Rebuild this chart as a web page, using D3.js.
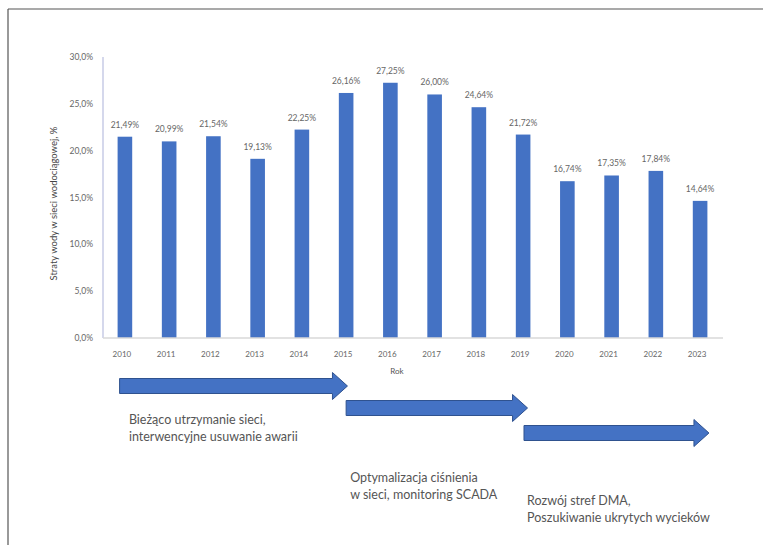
<!DOCTYPE html>
<html>
<head>
<meta charset="utf-8">
<script src="https://cdn.jsdelivr.net/npm/d3@7"></script>
<style>
  body { margin: 0; background: #fff; }
  svg { display: block; font-family: Lato, "Open Sans", sans-serif; }
</style>
</head>
<body>
<div class="chart"></div>
<script>
// dane z wykresu: straty wody w sieci wodociągowej
const years = ["2010", "2011", "2012", "2013", "2014", "2015", "2016",
               "2017", "2018", "2019", "2020", "2021", "2022", "2023"];
const losses = [21.49, 20.99, 21.54, 19.13, 22.25, 26.16, 27.25,
                26.00, 24.64, 21.72, 16.74, 17.35, 17.84, 14.64];
const yTicks = [0, 5, 10, 15, 20, 25, 30];

// etapy (strzałki pod osią)
const phaseFrom = [2009.88, 2015.0, 2019.02];
const phaseTo = [2015.03, 2019.1, 2023.2];
const phaseText = [
    ["Bieżąco utrzymanie sieci,", "interwencyjne usuwanie awarii"],
    ["Optymalizacja ciśnienia", "w sieci, monitoring SCADA"],
    ["Rozwój stref DMA,", "Poszukiwanie ukrytych wycieków"]
];

const width = 763;
const height = 545;
const margin = { top: 57, left: 103, right: 41, bottom: 207 };

const pl = d3.formatLocale({ decimal: ",", thousands: " ", grouping: [3], currency: ["", " zł"] });
const tickFmt = v => pl.format(".1f")(v) + "%";
const valFmt = v => pl.format(".2f")(v) + "%";

const svg = d3.select("div.chart")
    .append("svg")
    .attr("width", width)
    .attr("height", height);

// ramka (widoczna tylko góra i lewa strona)
svg.append("line").attr("x1", 8).attr("y1", 9).attr("x2", width).attr("y2", 9)
    .attr("stroke", "#555").attr("stroke-width", 1.2);
svg.append("line").attr("x1", 8).attr("y1", 9).attr("x2", 8).attr("y2", height)
    .attr("stroke", "#555").attr("stroke-width", 1.2);

const x = d3.scaleBand()
    .domain(years)
    .range([margin.left, width - margin.right])
    .paddingInner(0.67)
    .paddingOuter(0.33);

const y = d3.scaleLinear()
    .domain([0, 30])
    .range([height - margin.bottom, margin.top]);

const yBase = y(0);

// oś Y
svg.append("line")
    .attr("x1", margin.left).attr("x2", margin.left)
    .attr("y1", y(30)).attr("y2", yBase)
    .attr("stroke", "#d5d8ec").attr("stroke-width", 2);

svg.append("g")
    .selectAll("text")
    .data(yTicks)
    .enter()
    .append("text")
    .attr("x", margin.left - 10)
    .attr("y", d => y(d) + 3)
    .attr("text-anchor", "end")
    .attr("font-size", 8.5)
    .attr("fill", "#666")
    .text(tickFmt);

svg.append("text")
    .attr("transform", `translate(57,${(y(30) + yBase) / 2 + 6}) rotate(-90)`)
    .attr("text-anchor", "middle")
    .attr("font-size", 9.5)
    .attr("fill", "#444")
    .text("Straty wody w sieci wodociągowej, %");

// słupki
svg.append("g")
    .selectAll("rect")
    .data(years)
    .enter()
    .append("rect")
    .attr("x", d => x(d))
    .attr("width", x.bandwidth())
    .attr("y", (d, i) => y(losses[i]))
    .attr("height", (d, i) => yBase - y(losses[i]))
    .attr("fill", "#4472c4");

svg.append("g")
    .selectAll("text")
    .data(years)
    .enter()
    .append("text")
    .attr("x", d => x(d) + x.bandwidth() / 2)
    .attr("y", (d, i) => y(losses[i]) - 9)
    .attr("text-anchor", "middle")
    .attr("font-size", 8.5)
    .attr("fill", "#666")
    .text((d, i) => valFmt(losses[i]));

// oś X
svg.append("line")
    .attr("x1", margin.left).attr("x2", width - margin.right + 1)
    .attr("y1", yBase).attr("y2", yBase)
    .attr("stroke", "#d9d9d9").attr("stroke-width", 1.5);

svg.append("g")
    .selectAll("text")
    .data(years)
    .enter()
    .append("text")
    .attr("x", d => x(d) + x.bandwidth() / 2 - 3)
    .attr("y", yBase + 19)
    .attr("text-anchor", "middle")
    .attr("font-size", 8)
    .attr("fill", "#666")
    .text(d => d);

svg.append("text")
    .attr("x", 397)
    .attr("y", yBase + 36)
    .attr("text-anchor", "middle")
    .attr("font-size", 8)
    .attr("fill", "#555")
    .text("Rok");

// strzałki etapów
const xYear = d3.scaleLinear()
    .domain([2010, 2023])
    .range([x("2010") + x.bandwidth() / 2, x("2023") + x.bandwidth() / 2]);

const arrowY = [386, 408, 433];
const labelDy = [38, 74, 72];
const shaft = 7.5, head = 13.5, headLen = 15;

function arrowPath(x0, x1, cy) {
    const hx = x1 - headLen;
    return `M${x0},${cy - shaft}L${hx},${cy - shaft}L${hx},${cy - head}L${x1},${cy}` +
        `L${hx},${cy + head}L${hx},${cy + shaft}L${x0},${cy + shaft}Z`;
}

const phases = svg.append("g")
    .selectAll("g")
    .data(phaseFrom)
    .enter()
    .append("g");

phases.append("path")
    .attr("d", (d, i) => arrowPath(xYear(d), xYear(phaseTo[i]), arrowY[i]))
    .attr("fill", "#4472c4")
    .attr("stroke", "#2f528f")
    .attr("stroke-width", 1);

phases.each(function (d, i) {
    const t = d3.select(this).append("text")
        .attr("font-size", 12.5)
        .attr("fill", "#555");
    phaseText[i].forEach((line, j) => {
        t.append("tspan")
            .attr("x", xYear(Math.round(d)) + 4)
            .attr("y", arrowY[i] + labelDy[i] + j * 17)
            .text(line);
    });
});
</script>
</body>
</html>
